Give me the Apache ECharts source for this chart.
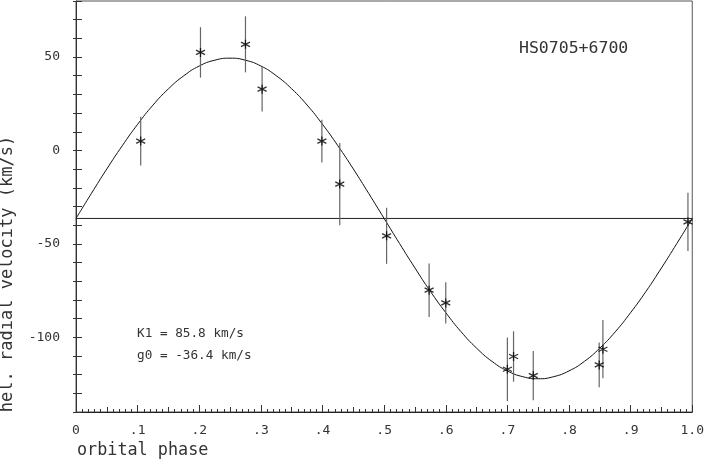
<!DOCTYPE html>
<html>
<head>
<meta charset="utf-8">
<script src="https://cdn.jsdelivr.net/npm/echarts@6/dist/echarts.min.js"></script>
<style>
html,body{margin:0;padding:0;background:#fff;}
#chart{width:707px;height:460px;}
</style>
</head>
<body>
<div id="chart"></div>
<script>
// observed data (orbital phase, heliocentric radial velocity, error)
var phase = [0.105, 0.202, 0.275, 0.302, 0.399, 0.428, 0.504, 0.573, 0.600, 0.700, 0.710, 0.742, 0.849, 0.855, 0.993];
var velocity = [5, 52.5, 56.8, 32.8, 5, -18, -45.7, -74.8, -81.6, -117.1, -110.3, -120.5, -114.8, -106.4, -38.2];
var velError = [13, 13.5, 15, 12, 11.5, 22, 15, 14.3, 11, 17, 13.5, 13.2, 12, 15.6, 15.6];

// fitted curve
var curvePhase = [0, 0.025, 0.05, 0.075, 0.1, 0.125, 0.15, 0.175, 0.2, 0.225, 0.25, 0.275, 0.3, 0.325, 0.35, 0.375, 0.4, 0.425, 0.45, 0.475, 0.5, 0.525, 0.55, 0.575, 0.6, 0.625, 0.65, 0.675, 0.7, 0.725, 0.75, 0.775, 0.8, 0.825, 0.85, 0.875, 0.9, 0.925, 0.95, 0.975, 1.0];
var curveVel = [-36.4, -23.0, -9.9, 2.5, 14.0, 24.3, 33.0, 40.0, 45.2, 48.3, 49.4, 48.3, 45.2, 40.0, 33.0, 24.3, 14.0, 2.5, -9.9, -23.0, -36.4, -49.8, -62.9, -75.4, -86.8, -97.1, -105.8, -112.9, -118.0, -121.1, -122.2, -121.1, -118.0, -112.9, -105.8, -97.1, -86.8, -75.4, -62.9, -49.8, -36.4];

// systemic velocity line
var gammaPhase = [0, 1];
var gammaVel = [-36.4, -36.4];

var xTickLabels = ['0', '.1', '.2', '.3', '.4', '.5', '.6', '.7', '.8', '.9', '1.0'];
var yTickValues = [-100, -50, 0, 50];
var yTickLabels = ['-100', '-50', '0', '50'];

var titleText = 'HS0705+6700';
var fitText1 = 'K1 = 85.8 km/s';
var fitText2 = 'g0 = -36.4 km/s';
var xName = 'orbital phase';
var yName = 'hel. radial velocity (km/s)';

var MONO = '"DejaVu Sans Mono", "Liberation Mono", monospace';

function zip(a, b) { var r = []; for (var i = 0; i < a.length; i++) r.push([a[i], b[i]]); return r; }

var errData = [];
for (var i = 0; i < phase.length; i++) errData.push([phase[i], velocity[i] - velError[i], velocity[i] + velError[i]]);

var chart = echarts.init(document.getElementById('chart'), null, {renderer: 'canvas'});
chart.setOption({
  animation: false,
  backgroundColor: '#fff',
  grid: {left: 76, right: 14, top: 1, bottom: 48, show: true, borderColor: '#555', borderWidth: 1, backgroundColor: 'transparent'},
  xAxis: [{
    type: 'value', min: 0, max: 1, interval: 0.1, position: 'bottom',
    axisLine: {show: true, onZero: false, lineStyle: {color: '#222', width: 1}},
    axisTick: {show: true, inside: true, length: 7, lineStyle: {color: '#333'}},
    minorTick: {show: true, splitNumber: 10, length: 3, lineStyle: {color: '#333'}},
    splitLine: {show: false}, minorSplitLine: {show: false},
    axisLabel: {
      margin: 12, fontFamily: MONO, fontSize: 13, color: '#333',
      formatter: function (v) { return xTickLabels[Math.round(v * 10)]; }
    }
  }, {
    type: 'value', min: 0, max: 1, interval: 0.05, position: 'bottom',
    axisLine: {show: false, onZero: false},
    axisTick: {show: true, inside: true, length: 5, lineStyle: {color: '#333'}},
    axisLabel: {show: false}, splitLine: {show: false}
  }],
  yAxis: [{
    type: 'value', min: -140, max: 80, interval: 10, position: 'left',
    axisLine: {show: true, onZero: false, lineStyle: {color: '#333', width: 1}},
    axisTick: {show: true, inside: true, length: 6, lineStyle: {color: '#333'}},
    splitLine: {show: false},
    axisLabel: {
      margin: 16, fontFamily: MONO, fontSize: 13, color: '#333',
      formatter: function (v) { var k = yTickValues.indexOf(v); return k >= 0 ? yTickLabels[k] : ''; }
    }
  }, {
    type: 'value', min: -140, max: 80, interval: 10, position: 'left', offset: 0,
    axisLine: {show: false, onZero: false},
    axisTick: {show: true, inside: false, length: 3, lineStyle: {color: '#333'}},
    axisLabel: {show: false}, splitLine: {show: false}
  }],
  series: [{
    type: 'line', xAxisIndex: 0, yAxisIndex: 0, data: zip(curvePhase, curveVel),
    smooth: true, showSymbol: false, symbol: 'none',
    lineStyle: {color: '#111', width: 1}, z: 3
  }, {
    type: 'line', xAxisIndex: 0, yAxisIndex: 0, data: zip(gammaPhase, gammaVel),
    showSymbol: false, symbol: 'none',
    lineStyle: {color: '#222', width: 1}, z: 3
  }, {
    type: 'custom', xAxisIndex: 0, yAxisIndex: 0, data: errData, z: 4,
    renderItem: function (params, api) {
      var lo = api.coord([api.value(0), api.value(1)]);
      var hi = api.coord([api.value(0), api.value(2)]);
      return {type: 'line', shape: {x1: lo[0], y1: lo[1], x2: hi[0], y2: hi[1]},
        style: {stroke: '#666', lineWidth: 1.2}};
    }
  }, {
    type: 'scatter', xAxisIndex: 0, yAxisIndex: 0, data: zip(phase, velocity), z: 5,
    symbol: 'path://M0,-10 L0,10 M-8.66,-5 L8.66,5 M-8.66,5 L8.66,-5',
    symbolSize: [9, 9],
    itemStyle: {color: '#000', borderColor: '#000', borderWidth: 1.3}
  }],
  graphic: [{
    type: 'text', left: 519, top: 40,
    style: {text: titleText, fontFamily: MONO, fontSize: 16.5, fill: '#333'}
  }, {
    type: 'text', left: 137, top: 327,
    style: {text: fitText1, fontFamily: MONO, fontSize: 12.7, fill: '#333'}
  }, {
    type: 'text', left: 137, top: 349,
    style: {text: fitText2, fontFamily: MONO, fontSize: 12.7, fill: '#333'}
  }, {
    type: 'text', left: 77, top: 442,
    style: {text: xName, fontFamily: MONO, fontSize: 16.8, fill: '#333'}
  }, {
    type: 'text', x: 8, y: 274, rotation: Math.PI / 2,
    style: {text: yName, fontFamily: MONO, fontSize: 17, fill: '#333', align: 'center', verticalAlign: 'middle'}
  }]
});
</script>
</body>
</html>
